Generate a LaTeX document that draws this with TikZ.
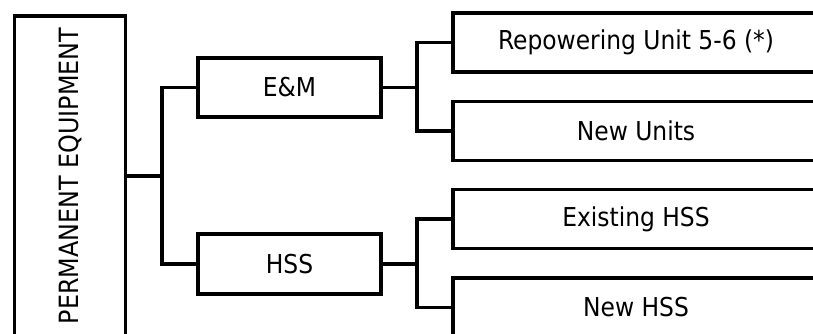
\documentclass[tikz,border=0pt]{standalone}
\usepackage{fontspec}
\setmainfont{DejaVu Sans Condensed}
\begin{document}
\begin{tikzpicture}[x=1pt,y=-1pt,
  box/.style={draw=black,line width=3.2pt,fill=white,inner sep=0pt,align=center,
    font=\fontsize{26}{31}\selectfont},
  conn/.style={draw=black,line width=3.2pt}]
\useasboundingbox (0,0) rectangle (813,334);
\clip (0,0) rectangle (813,334);
\node[box,minimum width=111pt,minimum height=320pt] (pe) at (70,176) {};
\node[rotate=90,font=\fontsize{26.5}{31}\selectfont] (pet) at (70,176) {PERMANENT EQUIPMENT};
\node[box,minimum width=183pt,minimum height=59pt] (em) at (289.5,87.5) {E\&M};
\node[box,minimum width=183pt,minimum height=60pt] (hss) at (289.5,264) {HSS};
\node[box,minimum width=366pt,minimum height=59pt] (r1) at (636,42.5) {Repowering Unit 5-6 (*)};
\node[box,minimum width=366pt,minimum height=59pt] (r2) at (636,131) {New Units};
\node[box,minimum width=366pt,minimum height=59pt] (r3) at (636,219) {Existing HSS};
\node[box,minimum width=366pt,minimum height=59pt] (r4) at (636,307.5) {New HSS};
\coordinate (j1) at (162,176);
\coordinate (j2) at (417,87.5);
\coordinate (j3) at (417,264);
\draw[conn] (pe.east) -- (j1);
\draw[conn] (em.west) -| (j1) |- (hss.west);
\draw[conn] (em.east) -- (j2);
\draw[conn] (r1.west) -| (j2) |- (r2.west);
\draw[conn] (hss.east) -- (j3);
\draw[conn] (r3.west) -| (j3) |- (r4.west);
\end{tikzpicture}
\end{document}
